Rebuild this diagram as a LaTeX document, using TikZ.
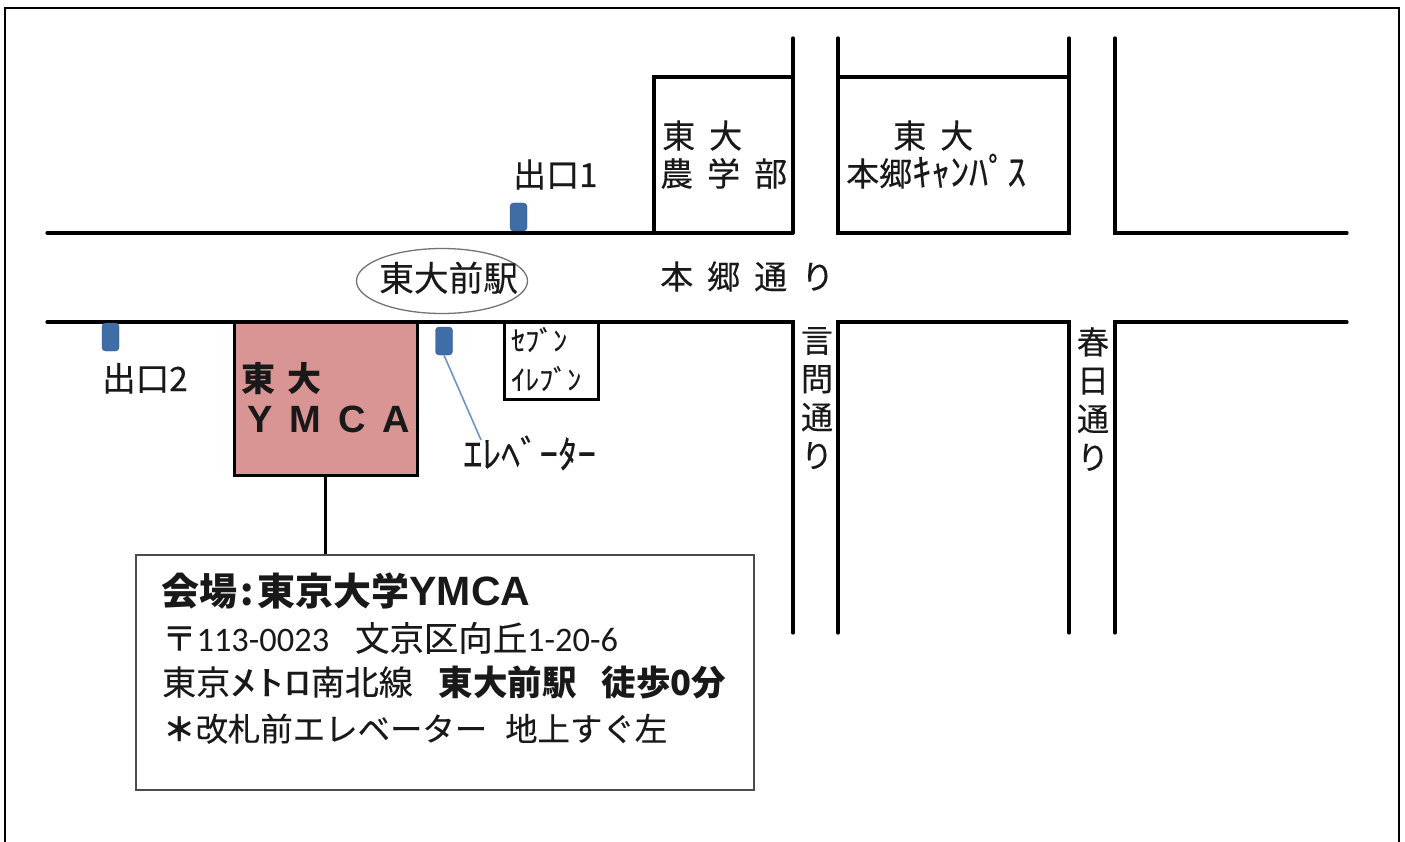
\documentclass[tikz,border=0pt]{standalone}
\usepackage{fontspec}
\usetikzlibrary{shapes.geometric}
\setmainfont{Noto Sans CJK JP}[FakeBold=0.25,BoldFeatures={FakeBold=0}]
\newfontfamily\lat{Liberation Sans}
\newfontfamily\car{Carlito}
\newcommand{\fs}[1]{\fontsize{#1}{#1}\selectfont}
\definecolor{ymcared}{HTML}{D89593}
\definecolor{exitblue}{HTML}{3F6DA6}
\definecolor{linkblue}{HTML}{6F93C4}
\tikzset{
  road/.style={line width=3.2pt,line cap=round,line join=miter},
  lbl/.style={anchor=base west,inner sep=0pt,text=black!90},
  vlbl/.style={anchor=north,inner sep=0pt,align=center,text=black!90,font=\fs{32}},
  exitmark/.style={draw=exitblue!85!black,fill=exitblue,rounded corners=3.5pt,minimum width=17pt,minimum height=28pt,inner sep=0pt},
}
\begin{document}
\begin{tikzpicture}[x=1pt,y=-1pt]
\useasboundingbox (0,0) rectangle (1405,842);
% frame
\draw[line width=2.4pt,black] (5,842) -- (5,8) -- (1399,8) -- (1399,842);
% upper side of Hongo-dori
\draw[road] (47,233) -- (793,233);
\draw[road] (793,38) -- (793,233);
\draw[road] (654,233) -- (654,77) -- (793,77);
\draw[road] (838,38) -- (838,233) -- (1069,233) -- (1069,38);
\draw[road] (838,77) -- (1069,77);
\draw[road] (1115,38) -- (1115,233) -- (1347,233);
% lower side
\draw[road] (47,322) -- (793,322) -- (793,633);
\draw[road] (838,633) -- (838,322) -- (1069,322) -- (1069,633);
\draw[road] (1115,633) -- (1115,322) -- (1347,322);
% buildings
\node[draw=black,line width=3pt,fill=ymcared,minimum width=183pt,minimum height=153pt,inner sep=0pt] (ymca) at (325.5,398.5) {};
\node[draw=black,line width=3pt,fill=white,minimum width=94pt,minimum height=77pt,inner sep=0pt] (seven) at (551,360.5) {};
\node[draw=black!70,line width=2.6pt,fill=white,minimum width=618pt,minimum height=235pt,inner sep=0pt] (info) at (445,672.5) {};
\draw[line width=2.8pt,black] (ymca.south) -- (info.north -| ymca.south);
% station
\node[draw=black!55,line width=1.3pt,ellipse,minimum width=171pt,minimum height=65pt,inner sep=0pt] (station) at (442,281) {};
\node[lbl] (stationtext) at (379,291) {\fs{34.7}東大前駅};
% exits
\node[exitmark] (exitone) at (518.5,217) {};
\node[exitmark] (exittwo) at (110.5,337) {};
\node[exitmark] (elev) at (444,341) {};
\node[lbl] (exitonetext) at (513,187) {\fs{33}出口1};
\node[lbl] (exittwotext) at (102,391) {\fs{33.5}出口2};
\node[lbl] (elevtext) at (463,468) {\fs{38}ｴﾚﾍﾞｰﾀｰ};
\coordinate (elevend) at (481,440);
\draw[linkblue,line width=1.6pt] (elev.south) -- (elevend);
% labels
\node[lbl] (nogaku1) at (662,148) {\fs{33}東\hspace{14pt}大};
\node[lbl] (nogaku2) at (660,186) {\fs{33}農\hspace{14pt}学\hspace{14pt}部};
\node[lbl] (hongo1) at (893,148) {\fs{33}東\hspace{14pt}大};
\node[lbl] (hongo2) at (846,186) {\fs{33}本郷\fs{38}ｷｬﾝﾊﾟｽ};
\node[lbl] (hongodori) at (660,289) {\fs{33}本\hspace{14pt}郷\hspace{14pt}通\hspace{14pt}り};
\node[lbl] (ymca1) at (241,391) {\fs{34}\bfseries 東\hspace{12pt}大};
\node[lbl] (ymca2) at (247,432) {\lat\fs{38}\bfseries Y\hspace{17pt}M\hspace{17pt}C\hspace{17pt}A};
\node[lbl] (seven1) at (511,351) {\fs{28}ｾﾌﾞﾝ};
\node[lbl] (seven2) at (511,390) {\fs{28}ｲﾚﾌﾞﾝ};
\node[vlbl] (kototoi) at (817,327) {言\\[6.4pt]問\\[6.4pt]通\\[6.4pt]り};
\node[vlbl] (kasuga) at (1093,327) {春\\[6.4pt]日\\[6.4pt]通\\[6.4pt]り};
% info text
\node[lbl] (info1) at (161,605) {\fs{38}\bfseries 会場\hspace{3pt}:\hspace{4pt}東京大学{\lat\fs{41}YMCA}};
\node[lbl] (info2) at (162,651) {\fs{34.4}〒{\car 113-0023}\hspace{26pt}文京区向丘{\car 1-20-6}};
\node[lbl] (info3) at (162,695) {\fs{34}東京\scalebox{1.58}[1]{ﾒﾄﾛ}南北線\hspace{26pt}{\bfseries\fs{34.5}東大前駅\hspace{25pt}徒歩0分}};
\node[lbl] (info4) at (163,741) {\fs{32.4}{\bfseries ＊}改札前エレベーター\hspace{18pt}地上すぐ左};
\end{tikzpicture}
\end{document}
